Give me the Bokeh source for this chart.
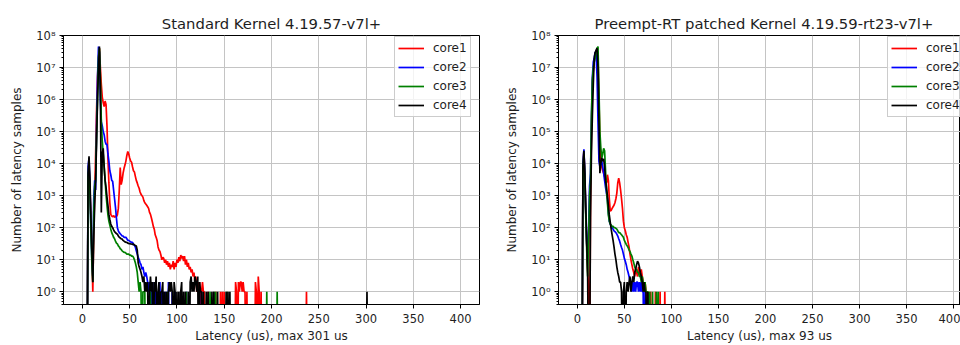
import numpy as np
from bokeh.plotting import figure
from bokeh.layouts import row
from bokeh.models import (FixedTicker, CustomJSTickFormatter, Legend, LegendItem,
                          Range1d, Title)
from bokeh.embed import file_html
from bokeh.resources import INLINE

# ---------------- data: (latency in us, number of samples) ----------------
core_names = ["core1", "core2", "core3", "core4"]
core_colors = ["#ff0000", "#0000ff", "#008000", "#000000"]
x_ticks = [0, 50, 100, 150, 200, 250, 300, 350, 400]
y_ticks = [1, 10, 100, 1000, 10000, 100000, 1000000, 10000000, 100000000]

std_title = "Standard Kernel 4.19.57-v7l+"
std_xlabel = "Latency (us), max 301 us"
rt_title = "Preempt-RT patched Kernel 4.19.59-rt23-v7l+"
rt_xlabel = "Latency (us), max 93 us"
y_label = "Number of latency samples"

std_core1 = [(6,3000),(7,8000),(8,1500),(9,200),(10,20),(11,1),(12,100),(13,1200),(14,20000),
  (15,500000),(16,5000000),(17,20000000),(18,40000000),(19,10000000),(20,3000000),(21,1200000),
  (22,800000),(23,600000),(24,900000),(25,700000),(26,150000),(27,15000),(28,2500),(29,600),
  (30,260),(31,230),(32,220),(33,240),(34,210),(35,230),(36,220),(37,250),(38,400),(39,1500),
  (40,7600),(41,2200),(42,3000),(43,5000),(44,7000),(45,9000),(46,12000),(47,18000),(48,24000),
  (49,20000),(50,15000),(51,12000),(52,11000),(53,8000),(54,6000),(55,5500),(56,4000),(57,3000),
  (58,2500),(59,2000),(60,1700),(61,1300),(62,1100),(63,1000),(64,900),(65,700),(66,600),
  (67,550),(68,500),(69,450),(70,400),(71,300),(72,260),(73,200),(74,150),(75,110),(76,90),
  (77,60),(78,50),(79,40),(80,25),(81,20),(82,18),(83,14),(84,10),(85,12),(86,11),(87,8),
  (88,10),(89,7),(90,9),(91,6),(92,8),(93,5),(94,7),(95,6),(96,9),(97,5),(98,8),(99,6),
  (100,10),(101,8),(102,12),(103,9),(104,14),(105,11),(106,13),(107,9),(108,13),(109,7),
  (110,10),(111,6),(112,8),(113,5),(114,6),(115,4),(116,5),(117,3),(118,4),(119,2),(120,3),
  (121,1),(122,2),(123,1),(124,2),(126,1),(127,2),(128,1),(129,1),(133,1),(141,1),(146,1),
  (148,1),(150,1),(162,2),(163,1),(165,2),(166,1),(167,2),(168,2),(169,1),(170,2),(171,1),
  (172,1),(174,1),(183,2),(184,1),(186,3),(187,1),(189,1),(237,1)]

std_core2 = [(6,8000),(7,15000),(8,2000),(9,100),(10,10),(11,3),(12,800),(13,3000),(14,1500),
  (15,200000),(16,5000000),(17,45000000),(18,30000000),(19,1000000),(20,200000),(21,150000),
  (22,100000),(23,80000),(24,50000),(25,40000),(26,40000),(27,20000),(28,12000),(29,6000),
  (30,4500),(31,3000),(32,2800),(33,1500),(34,800),(35,430),(36,200),(37,100),(38,80),(39,70),
  (40,65),(41,60),(42,55),(43,55),(44,50),(45,50),(46,50),(47,45),(48,40),(49,40),(50,38),
  (51,36),(52,35),(53,35),(54,30),(55,28),(56,25),(57,19),(58,15),(59,12),(60,10),(61,8),
  (62,7),(63,5),(64,6),(65,4),(66,3),(67,4),(68,3),(69,2),(70,1),(71,2),(73,1),(74,1),(76,2),
  (77,1),(79,1),(81,1),(82,2),(84,1),(86,1),(88,1),(91,2),(95,1),(98,1),(104,1),(110,1),(126,1)]

std_core3 = [(6,4000),(7,9000),(8,1200),(9,80),(10,8),(11,2),(12,300),(13,2000),(14,3000),
  (15,100000),(16,1000000),(17,20000000),(18,40000000),(19,5000000),(20,200000),(21,50000),
  (22,20000),(23,8000),(24,3000),(25,1100),(26,500),(27,250),(28,160),(29,120),(30,90),(31,70),
  (32,60),(33,50),(34,45),(35,38),(36,33),(37,31),(38,27),(39,25),(40,22),(41,21),(42,19),
  (43,18),(44,17),(45,17),(46,16),(47,15),(48,15),(49,15),(50,14),(51,14),(52,13),(53,13),
  (54,12),(55,10),(56,8),(57,6),(58,4),(59,2),(60,1),(61,2),(62,1),(64,1),(65,1),(66,1),(72,1),
  (90,1),(110,1),(135,1),(139,1),(141,1),(153,1),(195,1),(206,1)]

std_core4 = [(6,5000),(7,17000),(8,3000),(9,200),(10,20),(11,2),(12,50),(13,500),(14,3000),
  (15,50000),(16,1000000),(17,10000000),(18,45000000),(19,2000000),(20,300),(21,20000),
  (22,30000),(23,8000),(24,3000),(25,1800),(26,900),(27,500),(28,260),(29,180),(30,130),
  (31,110),(32,100),(33,85),(34,75),(35,70),(36,65),(37,63),(38,55),(39,50),(40,48),(41,45),
  (42,44),(43,40),(44,38),(45,36),(46,35),(47,35),(48,33),(49,32),(50,32),(51,31),(52,31),
  (53,30),(54,31),(55,29),(56,28),(57,27),(58,20),(59,8),(60,6),(61,5),(62,4),(63,3),(64,2),
  (65,3),(66,1),(67,2),(68,1),(69,2),(71,1),(72,3),(73,1),(74,2),(76,2),(77,1),(78,3),(80,1),
  (81,2),(83,1),(84,1),(85,2),(87,1),(89,1),(91,1),(92,2),(93,1),(94,2),(95,1),(97,2),(98,1),
  (100,1),(102,1),(104,1),(105,2),(107,1),(109,1),(112,1),(114,2),(115,3),(116,1),(117,2),
  (118,1),(119,3),(120,2),(121,1),(122,3),(124,2),(125,1),(126,1),(128,1),(131,1),(133,1),
  (137,1),(139,1),(143,1),(152,1),(154,1),(156,1),(301,1)]

rt_core1 = [(6,8000),(7,25000),(8,4000),(9,300),(10,30),(11,5),(12,1),(14,500),(15,100000),
  (16,3500000),(17,8000000),(18,15000000),(19,25000000),(20,30000000),(21,35000000),
  (22,20000000),(23,1000000),(24,50000),(25,15000),(26,8000),(27,6000),(28,5000),(29,4000),
  (30,3000),(31,2500),(32,4500),(33,3000),(34,800),(35,330),(36,350),(37,400),(38,450),
  (39,500),(40,600),(41,800),(42,1200),(43,2500),(44,3500),(45,2500),(46,1500),(47,800),
  (48,400),(49,160),(50,100),(51,80),(52,60),(53,50),(54,35),(55,25),(56,15),(57,10),(58,7),
  (59,5),(60,4),(61,3),(62,5),(63,4),(64,3),(65,6),(66,4),(67,3),(68,5),(69,3),(70,2),(71,1),
  (72,2),(73,1),(74,1),(76,1),(78,1),(83,1),(88,1),(93,1)]

rt_core2 = [(6,10000),(7,28000),(8,5000),(9,300),(10,30),(11,10),(12,100),(13,2000),(14,5000),
  (15,200000),(16,5000000),(17,15000000),(18,20000000),(19,30000000),(20,25000000),
  (21,5000000),(22,200000),(23,12000),(24,8000),(25,10000),(26,12000),(27,8000),(28,5000),
  (29,3000),(30,1800),(31,1200),(32,800),(33,300),(34,160),(35,130),(36,110),(37,100),(38,90),
  (39,80),(40,75),(41,70),(42,63),(43,55),(44,45),(45,38),(46,30),(47,24),(48,20),(49,15),
  (50,11),(51,9),(52,7),(53,5),(54,4),(55,3),(56,2),(57,2),(58,1),(59,2),(60,1),(61,2),(62,1),
  (63,2),(64,2),(65,1),(66,2),(67,1),(68,2),(69,1),(70,1),(72,1)]

rt_core3 = [(6,6000),(7,20000),(8,3000),(9,200),(10,20),(11,3),(12,50),(13,1000),(14,3000),
  (15,300000),(16,4000000),(17,10000000),(18,15000000),(19,20000000),(20,30000000),
  (21,40000000),(22,45000000),(23,2000000),(24,100000),(25,30000),(26,15000),(27,20000),
  (28,30000),(29,25000),(30,6000),(31,1500),(32,600),(33,250),(34,160),(35,130),(36,120),
  (37,110),(38,110),(39,100),(40,100),(41,95),(42,90),(43,80),(44,70),(45,70),(46,65),(47,60),
  (48,55),(49,50),(50,40),(51,35),(52,30),(53,27),(54,24),(55,20),(56,18),(57,15),(58,13),
  (59,10),(60,8),(61,6),(62,5),(63,5),(64,4),(65,4),(66,3),(67,3),(68,2),(69,3),(70,2),(71,1),
  (72,2),(73,1),(74,1),(75,1),(77,1),(80,1),(84,1),(86,1)]

rt_core4 = [(6,8000),(7,25000),(8,5000),(9,400),(10,40),(11,3),(14,200),(15,20000),(16,300000),
  (17,3000000),(18,20000000),(19,30000000),(20,35000000),(21,40000000),(22,10000000),
  (23,200000),(24,5000),(25,10000),(26,15000),(27,12000),(28,14000),(29,8000),(30,3000),
  (31,1800),(32,1000),(33,500),(34,250),(35,150),(36,90),(37,60),(38,40),(39,25),(40,15),
  (41,10),(42,6),(43,4),(44,3),(45,2),(46,2),(47,1),(49,1),(50,2),(52,1),(53,2),(54,1),(55,2),
  (56,3),(57,1),(58,2),(59,3),(60,2),(61,4),(62,5),(63,7),(64,9),(65,8),(66,6),(67,4),(68,3),
  (69,2),(70,1),(71,2),(72,1),(73,1),(75,1)]

LAT_MAX = 400

FONT = "DejaVu Sans"
TEXT = "#1e1e1e"


def histogram(pairs):
    lat = np.arange(0, LAT_MAX + 1)
    cnt = np.zeros(LAT_MAX + 1)
    for l, n in pairs:
        cnt[l] = n
    # like matplotlib's log clipping: empty bins drop below the axis
    return lat, np.where(cnt > 0, cnt, 1e-3)


sup = CustomJSTickFormatter(code="""
const s = {"0":"\u2070","1":"\u00b9","2":"\u00b2","3":"\u00b3","4":"\u2074",
           "5":"\u2075","6":"\u2076","7":"\u2077","8":"\u2078","9":"\u2079","-":"\u207b"};
const e = Math.round(Math.log10(tick));
return "10" + String(e).split("").map(c => s[c]).join("");
""")

minor = [m * 10 ** d for d in range(-1, 8) for m in range(2, 10)]


def make_fig(title, xlabel, series, width, mbl, mbr, x_end, align, offset, leg_x):
    p = figure(width=width, height=345, y_axis_type="log",
               x_range=Range1d(-20, x_end), y_range=Range1d(0.4, 1e8),
               output_backend="svg", toolbar_location=None,
               min_border_left=mbl, min_border_right=mbr,
               min_border_top=35, min_border_bottom=39,
               background_fill_color="white", border_fill_color="white")
    p.title = Title(text=title, align=align, offset=offset, text_font=FONT,
                    text_font_size="14.8px", text_font_style="normal",
                    text_color=TEXT, standoff=8)
    p.outline_line_color = "black"
    p.outline_line_width = 1
    p.outline_line_alpha = 1

    items = []
    for name, col, pairs in zip(core_names, core_colors, series):
        x, y = histogram(pairs)
        r = p.line(x, y, line_color=col, line_width=1.7)
        items.append(LegendItem(label=name, renderers=[r]))

    leg = Legend(items=items, location=(leg_x, 187), margin=0, padding=3, spacing=3,
                 glyph_width=26, glyph_height=16, label_height=16, label_standoff=9,
                 label_text_font=FONT, label_text_font_size="12px", label_text_color=TEXT,
                 border_line_color="#cccccc", border_line_alpha=1,
                 background_fill_color="white", background_fill_alpha=0.8)
    p.add_layout(leg)

    xa = p.xaxis[0]
    xa.ticker = FixedTicker(ticks=x_ticks)
    xa.axis_label = xlabel
    ya = p.yaxis[0]
    ya.ticker = FixedTicker(ticks=y_ticks, minor_ticks=minor)
    ya.formatter = sup
    ya.axis_label = y_label
    for ax in (xa, ya):
        ax.axis_line_color = "black"
        ax.major_tick_line_color = "black"
        ax.major_tick_out = 4
        ax.major_tick_in = 0
        ax.major_label_text_font = FONT
        ax.major_label_text_font_size = "11.5px"
        ax.major_label_text_color = TEXT
        ax.axis_label_text_font = FONT
        ax.axis_label_text_font_size = "12px"
        ax.axis_label_text_font_style = "normal"
        ax.axis_label_text_color = TEXT
    xa.minor_tick_line_color = None
    xa.major_label_standoff = 5
    xa.axis_label_standoff = 3
    ya.minor_tick_line_color = "black"
    ya.minor_tick_out = 2
    ya.minor_tick_in = 0
    ya.major_label_standoff = 4
    ya.axis_label_standoff = 9

    p.xgrid.grid_line_color = "#c4c4c4"
    p.ygrid.grid_line_color = "#c4c4c4"
    p.xgrid.grid_line_width = 1
    p.ygrid.grid_line_width = 1
    return p


p1 = make_fig(std_title, std_xlabel, [std_core1, std_core2, std_core3, std_core4],
              502, 63, 23, 420, "center", 0, 331)
p2 = make_fig(rt_title, rt_xlabel, [rt_core1, rt_core2, rt_core3, rt_core4],
              458, 54, 0, 407.3, "left", 36, 329)

layout = row(p1, p2)
open("out.html", "w").write(file_html(layout, INLINE))
